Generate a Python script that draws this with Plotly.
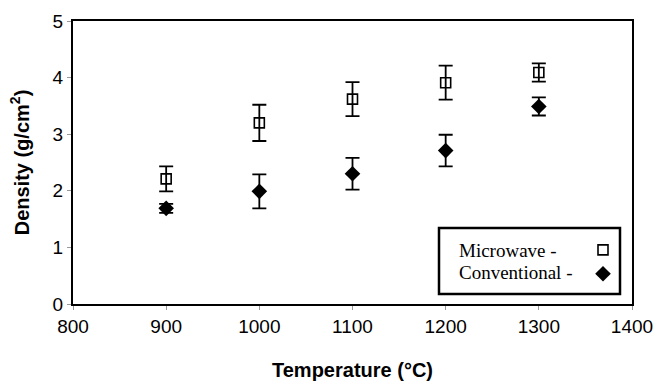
import plotly.graph_objects as go

temperature = [900, 1000, 1100, 1200, 1300]
microwave = [2.21, 3.20, 3.62, 3.91, 4.09]
microwave_err = [0.22, 0.32, 0.30, 0.30, 0.16]
conventional = [1.69, 1.99, 2.30, 2.71, 3.49]
conventional_err = [0.08, 0.30, 0.28, 0.28, 0.16]

legend_labels = ["Microwave -", "Conventional -"]

fig = go.Figure()
fig.add_trace(go.Scatter(
    x=temperature, y=microwave, mode="markers", name=" ",
    marker=dict(symbol="square-open", size=10, color="black", line=dict(width=1.6)),
    error_y=dict(type="data", array=microwave_err, color="black", thickness=1.8, width=7),
))
fig.add_trace(go.Scatter(
    x=temperature, y=conventional, mode="markers", name=" ",
    marker=dict(symbol="diamond", size=12, color="black"),
    error_y=dict(type="data", array=conventional_err, color="black", thickness=1.8, width=7),
))

L, R, T, B = 73, 24, 21, 77
W, H = 656, 381
pw, ph = W - L - R, H - T - B

def px(x):
    return (x - L) / pw

def py(y):
    return (H - B - y) / ph

fig.add_shape(type="rect", xref="paper", yref="paper",
              x0=px(439), x1=px(620), y0=py(294), y1=py(228),
              line=dict(color="black", width=2.5), fillcolor="rgba(0,0,0,0)")
for lbl, yy in zip(legend_labels, [250, 272]):
    fig.add_annotation(text=lbl, xref="paper", yref="paper", x=px(457), y=py(yy),
                       xanchor="left", yanchor="middle", showarrow=False,
                       font=dict(family="Liberation Serif", size=19, color="black"))

axis_common = dict(
    showline=True, linewidth=2, linecolor="black", mirror=True,
    ticks="outside", ticklen=4, tickwidth=1, tickcolor="#999999",
    showgrid=False, zeroline=False, automargin=False,
    tickfont=dict(family="Liberation Sans, Arial", size=19, color="black"),
)

fig.update_layout(
    width=W, height=H,
    margin=dict(l=L, r=R, t=T, b=B),
    paper_bgcolor="white", plot_bgcolor="white",
    showlegend=True,
    legend=dict(x=px(583), y=py(233), xanchor="left", yanchor="top",
                bgcolor="rgba(0,0,0,0)", borderwidth=0,
                font=dict(family="Liberation Serif", size=16), tracegroupgap=0),
    xaxis=dict(range=[800, 1400], tickvals=[800, 900, 1000, 1100, 1200, 1300, 1400],
               title=dict(text="<b>Temperature (°C)</b>", standoff=27,
                          font=dict(family="Liberation Sans, Arial", size=20, color="black")),
               **axis_common),
    yaxis=dict(range=[0, 5], tickvals=[0, 1, 2, 3, 4, 5],
               title=dict(text="<b>Density (g/cm<sup>2</sup>)</b>", standoff=18,
                          font=dict(family="Liberation Sans, Arial", size=20, color="black")),
               **axis_common),
)

fig.write_html("out.html")
